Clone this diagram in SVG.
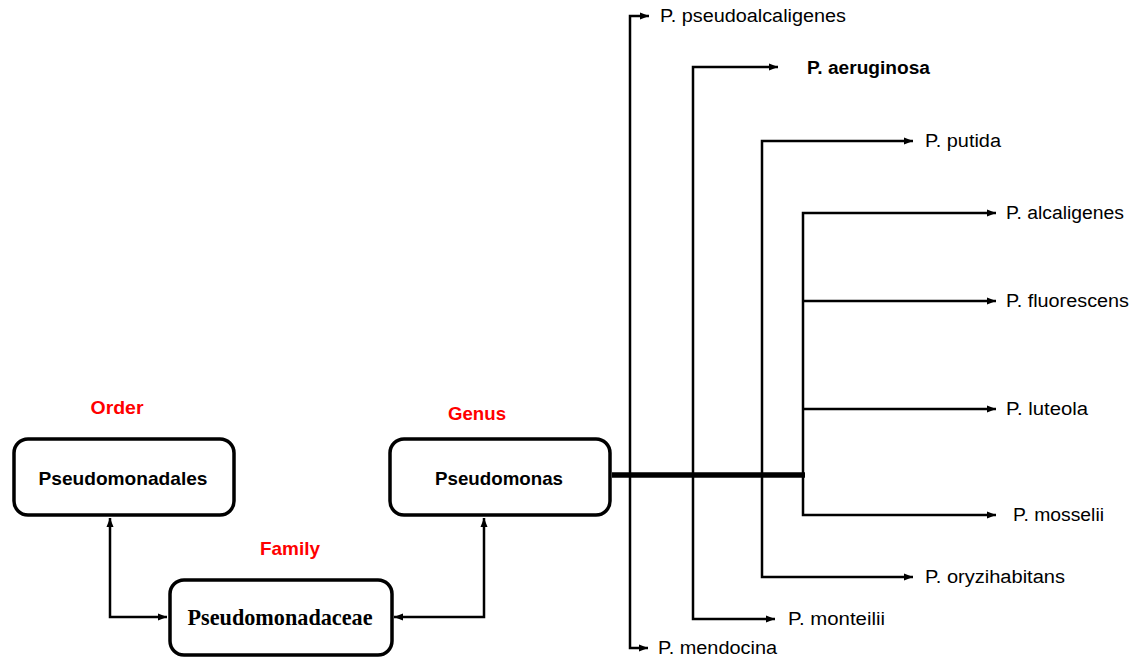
<svg xmlns="http://www.w3.org/2000/svg" width="1141" height="664" viewBox="0 0 1141 664">
<defs>
<marker id="ah" markerUnits="userSpaceOnUse" markerWidth="10" markerHeight="8" refX="9" refY="4" orient="auto">
<path d="M0,0.5 L9,4 L0,7.5 Z" fill="#000"/>
</marker>
<marker id="ahs" markerUnits="userSpaceOnUse" markerWidth="10" markerHeight="8" refX="9" refY="4" orient="auto-start-reverse">
<path d="M0,0.5 L9,4 L0,7.5 Z" fill="#000"/>
</marker>
<style>
.box{fill:#fff;stroke:#000;stroke-width:3.5}
.bt{font-family:"Liberation Sans",Arial,sans-serif;font-weight:bold;font-size:19px;fill:#000;text-anchor:middle}
.st{font-family:"Liberation Serif","Times New Roman",serif;font-weight:bold;font-size:24px;fill:#000;text-anchor:middle}
.rl{font-family:"Liberation Sans",Arial,sans-serif;font-weight:bold;font-size:19px;fill:#ff0000;text-anchor:middle}
.sp{font-family:"Liberation Sans",Arial,sans-serif;font-size:18px;fill:#000}
.ln{fill:none;stroke:#000;stroke-width:2.5}
</style>
</defs>
<rect width="1141" height="664" fill="#fff"/>
<g id="connectors">
<path class="ln" d="M110,518 V617 H167" marker-start="url(#ahs)" marker-end="url(#ah)"/>
<path class="ln" d="M484,518 V617 H394" marker-start="url(#ahs)" marker-end="url(#ah)"/>
<path d="M612,475 H805" stroke="#000" stroke-width="5.5" fill="none"/>
<path class="ln" d="M649,16 H630 V648 H648" marker-start="url(#ahs)" marker-end="url(#ah)"/>
<path class="ln" d="M778,67 H693 V619 H775" marker-start="url(#ahs)" marker-end="url(#ah)"/>
<path class="ln" d="M913,141 H762 V577 H913" marker-start="url(#ahs)" marker-end="url(#ah)"/>
<path class="ln" d="M996,213 H803 V515 H996" marker-start="url(#ahs)" marker-end="url(#ah)"/>
<path class="ln" d="M803,301 H996" marker-end="url(#ah)"/>
<path class="ln" d="M803,409 H996" marker-end="url(#ah)"/>
</g>
<g id="order-label"><text class="rl" x="117" y="414" textLength="53" lengthAdjust="spacingAndGlyphs">Order</text></g>
<g id="genus-label"><text class="rl" x="477" y="420" textLength="58" lengthAdjust="spacingAndGlyphs">Genus</text></g>
<g id="family-label"><text class="rl" x="290" y="555" textLength="60" lengthAdjust="spacingAndGlyphs">Family</text></g>
<g id="node-pseudomonadales">
<rect class="box" x="14" y="439" width="220" height="76" rx="14"/>
<text class="bt" x="123" y="485" textLength="169" lengthAdjust="spacingAndGlyphs">Pseudomonadales</text>
</g>
<g id="node-pseudomonas">
<rect class="box" x="390" y="439" width="220" height="76" rx="14"/>
<text class="bt" x="499" y="485" textLength="128" lengthAdjust="spacingAndGlyphs">Pseudomonas</text>
</g>
<g id="node-pseudomonadaceae">
<rect class="box" x="170" y="580" width="222" height="75" rx="14"/>
<text class="st" x="280" y="625" textLength="185" lengthAdjust="spacingAndGlyphs">Pseudomonadaceae</text>
</g>
<g id="species">
<text class="sp" x="660" y="22" textLength="186" lengthAdjust="spacingAndGlyphs">P. pseudoalcaligenes</text>
<text class="sp" x="807" y="74" font-weight="bold" textLength="123" lengthAdjust="spacingAndGlyphs">P. aeruginosa</text>
<text class="sp" x="925" y="147" textLength="76" lengthAdjust="spacingAndGlyphs">P. putida</text>
<text class="sp" x="1006" y="219" textLength="118" lengthAdjust="spacingAndGlyphs">P. alcaligenes</text>
<text class="sp" x="1006" y="307" textLength="123" lengthAdjust="spacingAndGlyphs">P. fluorescens</text>
<text class="sp" x="1006" y="415" textLength="82" lengthAdjust="spacingAndGlyphs">P. luteola</text>
<text class="sp" x="1013" y="521" textLength="91" lengthAdjust="spacingAndGlyphs">P. mosselii</text>
<text class="sp" x="925" y="583" textLength="140" lengthAdjust="spacingAndGlyphs">P. oryzihabitans</text>
<text class="sp" x="788" y="625" textLength="97" lengthAdjust="spacingAndGlyphs">P. monteilii</text>
<text class="sp" x="658" y="654" textLength="119" lengthAdjust="spacingAndGlyphs">P. mendocina</text>
</g>
</svg>
